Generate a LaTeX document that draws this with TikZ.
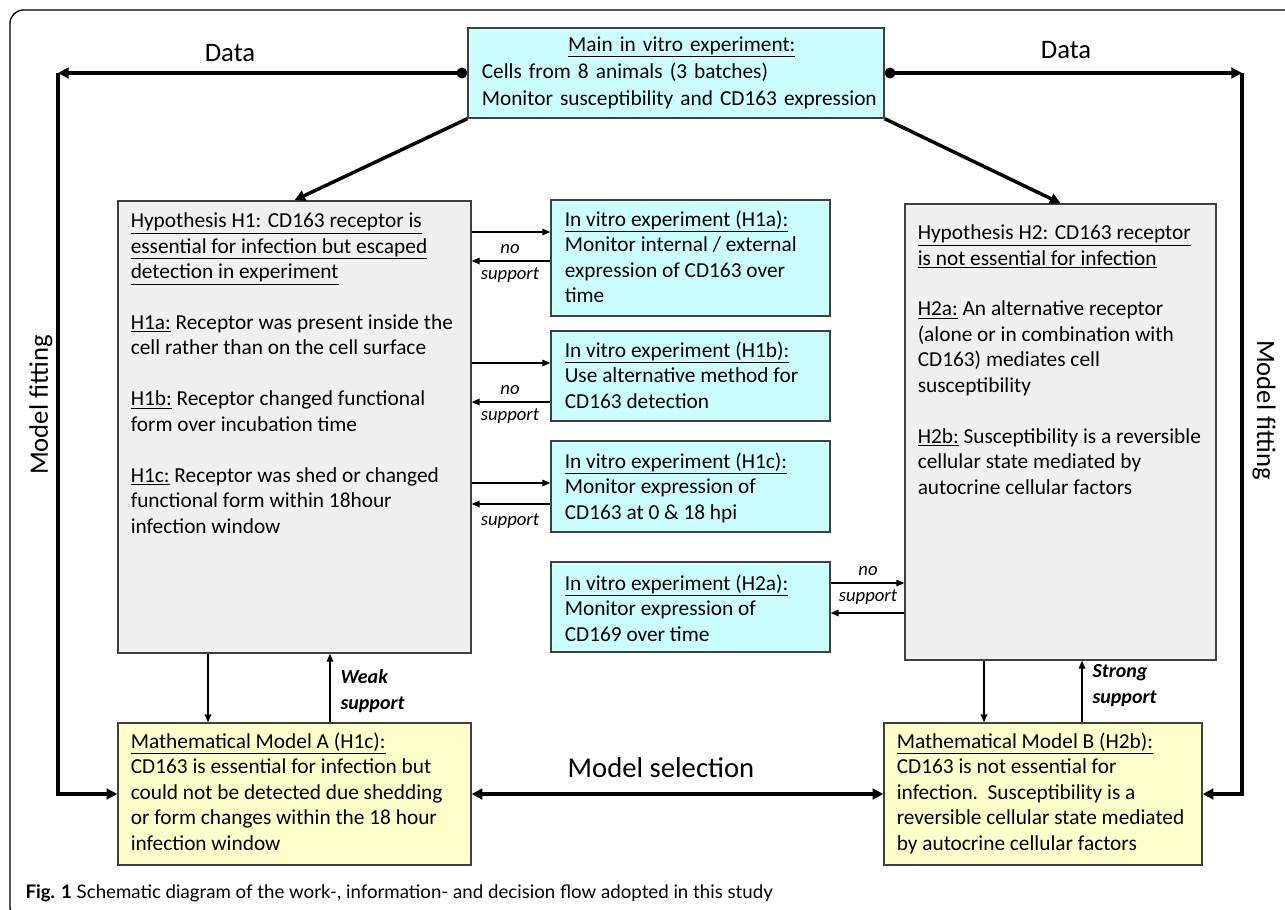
\documentclass[tikz,border=0pt]{standalone}
\usepackage{fontspec}
\setmainfont{Carlito}
\newfontfamily\capfont{Lato}
\usetikzlibrary{arrows.meta}

\definecolor{expcyan}{RGB}{204,255,255}
\definecolor{hypgray}{RGB}{240,240,240}
\definecolor{modyellow}{RGB}{255,255,204}
\definecolor{boxline}{RGB}{64,64,64}

\tikzset{every picture/.style={line width=0.75pt}}
\tikzset{
  expbox/.style={draw=boxline, fill=expcyan, line width=1.1pt, inner sep=0pt},
  hypbox/.style={draw=boxline, fill=hypgray, line width=1.1pt, inner sep=0pt},
  modbox/.style={draw=boxline, fill=modyellow, line width=1.1pt, inner sep=0pt},
  txt/.style={anchor=north west, align=left, inner sep=0pt, font=\fontsize{16}{19.1}\selectfont},
  thinarr/.style={line width=0.9pt, -{Triangle[length=6pt,width=5pt]}},
  thickarr/.style={line width=2.6pt, -{Triangle[length=8pt,width=8pt]}},
  lbl/.style={inner sep=0pt, font=\fontsize{14}{19}\selectfont\itshape},
  biglbl/.style={inner sep=0pt, font=\fontsize{20}{22}\selectfont}
}

\begin{document}
\begin{tikzpicture}[x=0.75pt,y=0.75pt,yscale=-1,xscale=1]
\useasboundingbox (0,0) rectangle (1285,910);
\clip (0,0) rectangle (1285,910);

%Frame
\draw [line width=1pt, rounded corners=10] (10,10) rectangle (1300,920);

% Boxes
\node [expbox, minimum width=312pt, minimum height=67.5pt] (main) at (676,73) {};
\node [hypbox, minimum width=264.75pt, minimum height=339pt] (h1) at (294.5,427) {};
\node [hypbox, minimum width=233.25pt, minimum height=342pt] (h2) at (1060.5,432) {};
\node [expbox, minimum width=209.25pt, minimum height=87pt] (h1a) at (690.5,258) {};
\node [expbox, minimum width=209.25pt, minimum height=67.5pt] (h1b) at (690.5,376) {};
\node [expbox, minimum width=209.25pt, minimum height=68.25pt] (h1c) at (690.5,486.5) {};
\node [expbox, minimum width=209.25pt, minimum height=67.5pt] (h2a) at (690.5,607) {};
\node [modbox, minimum width=264.75pt, minimum height=106.5pt] (moda) at (294.5,794) {};
\node [modbox, minimum width=238.5pt, minimum height=106.5pt] (modb) at (1043,794) {};

% Text Node
\node [txt, text width=300pt, font=\fontsize{16}{20.3}\selectfont] (maintxt) at ([shift={(14,9)}]main.north west) {\hfill\underline{Main in vitro experiment:}\hfill\null\\ Cells from 8 animals (3 batches)\\ Monitor susceptibility and CD163 expression};
% Text Node
\node [txt] (h1txt) at ([shift={(13,12)}]h1.north west) {\underline{Hypothesis H1: CD163 receptor is}\\ \underline{essential for infection but escaped}\\ \underline{detection in experiment}\\[19.1pt] \underline{H1a:} Receptor was present inside the\\ cell rather than on the cell surface\\[19.1pt] \underline{H1b:} Receptor changed functional\\ form over incubation time\\[19.1pt] \underline{H1c:} Receptor was shed or changed\\ functional form within 18hour\\ infection window};
% Text Node
\node [txt] (h2txt) at ([shift={(13,21)}]h2.north west) {\underline{Hypothesis H2: CD163 receptor}\\ \underline{is not essential for infection}\\[19.1pt] \underline{H2a:} An alternative receptor\\ (alone or in combination with\\ CD163) mediates cell\\ susceptibility\\[19.1pt] \underline{H2b:} Susceptibility is a reversible\\ cellular state mediated by\\ autocrine cellular factors};
% Text Node
\node [txt] (h1atxt) at ([shift={(14,11)}]h1a.north west) {\underline{In vitro experiment (H1a):}\\ Monitor internal / external\\ expression of CD163 over\\ time};
% Text Node
\node [txt] (h1btxt) at ([shift={(14,11)}]h1b.north west) {\underline{In vitro experiment (H1b):}\\ Use alternative method for\\ CD163 detection};
% Text Node
\node [txt] (h1ctxt) at ([shift={(14,12)}]h1c.north west) {\underline{In vitro experiment (H1c):}\\ Monitor expression of\\ CD163 at 0 \& 18 hpi};
% Text Node
\node [txt] (h2atxt) at ([shift={(14,13)}]h2a.north west) {\underline{In vitro experiment (H2a):}\\ Monitor expression of\\ CD169 over time};
% Text Node
\node [txt] (modatxt) at ([shift={(13,10)}]moda.north west) {\underline{Mathematical Model A (H1c):}\\ CD163 is essential for infection but\\ could not be detected due shedding\\ or form changes within the 18 hour\\ infection window};
% Text Node
\node [txt] (modbtxt) at ([shift={(13,10)}]modb.north west) {\underline{Mathematical Model B (H2b):}\\ CD163 is not essential for\\ infection.\ \ Susceptibility is a\\ reversible cellular state mediated\\ by autocrine cellular factors};

% Data and model fitting
\coordinate (dl) at (58,73);
\coordinate (dr) at (1242,73);
\draw [thickarr, {Circle[length=8pt]}-{Triangle[length=8pt,width=8pt]}] (main.west) -- (dl);
\draw [thickarr] (dl) -- (dl |- moda.west) -- (moda.west);
\draw [thickarr, {Circle[length=8pt]}-{Triangle[length=8pt,width=8pt]}] (main.east) -- (dr);
\draw [thickarr] (dr) -- (dr |- modb.east) -- (modb.east);
\draw [thickarr] (main.south west) -- (h1.north);
\draw [thickarr] (main.south east) -- (h2.north);
\draw [thickarr, {Triangle[length=8pt,width=8pt]}-{Triangle[length=8pt,width=8pt]}] (moda.east) -- (modb.west);

% Text Node
\node [biglbl] (datal) at (230,53) {Data};
\node [biglbl] (datar) at (1066,50) {Data};
\node [biglbl, rotate=90] (fitl) at (41,405) {Model fitting};
\node [biglbl, rotate=-90] (fitr) at (1264,410) {Model fitting};
\node [biglbl, font=\fontsize{21.5}{24}\selectfont] (sel) at (661,768) {Model selection};

%Straight Lines
\draw [thinarr] (h1.east |- 0,232) -- (h1a.west |- 0,232);
\draw [thinarr] (h1a.west |- 0,261) -- (h1.east |- 0,261);
\draw [thinarr] (h1.east |- 0,363) -- (h1b.west |- 0,363);
\draw [thinarr] (h1b.west |- 0,402) -- (h1.east |- 0,402);
\draw [thinarr] (h1.east |- 0,483) -- (h1c.west |- 0,483);
\draw [thinarr] (h1c.west |- 0,504) -- (h1.east |- 0,504);
\draw [thinarr] (h2a.east |- 0,583) -- (h2.west |- 0,583);
\draw [thinarr] (h2.west |- 0,613) -- (h2a.east |- 0,613);
\draw [thinarr] (208,0 |- h1.south) -- (208,0 |- moda.north);
\draw [thinarr] (330,0 |- moda.north) -- (330,0 |- h1.south);
\draw [thinarr] (984,0 |- h2.south) -- (984,0 |- modb.north);
\draw [thinarr] (1082,0 |- modb.north) -- (1082,0 |- h2.south);

% Text Node
\node [lbl] (no1) at (510,249) {no};
\node [lbl] (sup1) at (510,275) {support};
\node [lbl] (no2) at (510,390) {no};
\node [lbl] (sup2) at (510,416) {support};
\node [lbl] (sup3) at (510,521) {support};
\node [lbl] (no4) at (868,571) {no};
\node [lbl] (sup4) at (868,597) {support};
\node [lbl, anchor=west, align=left, font=\fontsize{15}{19.5}\selectfont\bfseries\itshape] (weak) at (340,691) {Weak\\ support};
\node [lbl, anchor=west, align=left, font=\fontsize{15}{19.5}\selectfont\bfseries\itshape] (strong) at (1092,686) {Strong\\ support};

% Caption
\node [anchor=west, inner sep=0pt, font=\capfont\fontsize{14}{16}\selectfont] (cap) at (25,893) {\textbf{Fig. 1} Schematic diagram of the work-, information- and decision flow adopted in this study};

\end{tikzpicture}
\end{document}
